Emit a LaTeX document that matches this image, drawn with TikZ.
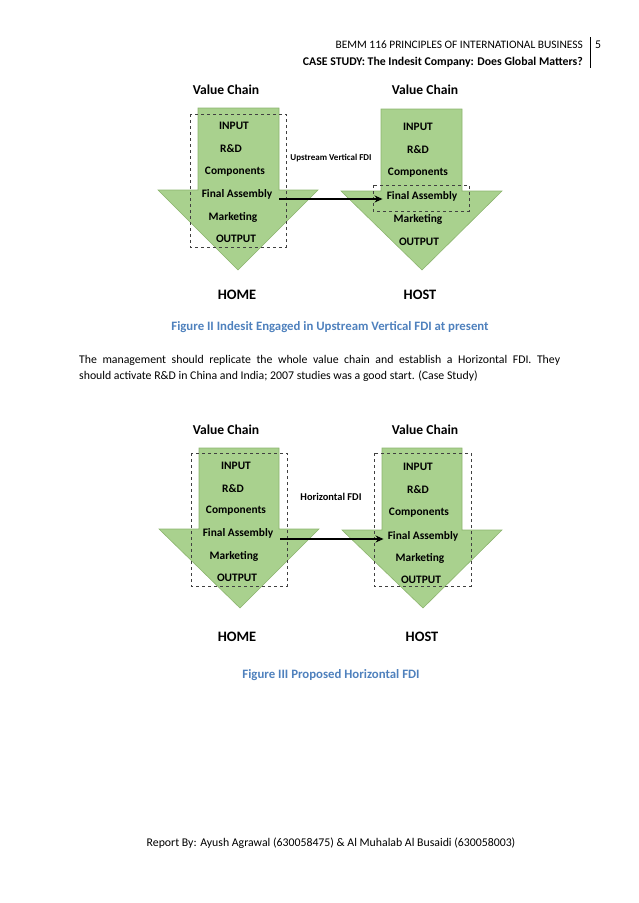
\documentclass[tikz,border=0pt]{standalone}
\usepackage{fontspec}
\setmainfont{Carlito}
\usetikzlibrary{arrows.meta}
\definecolor{chaingreen}{RGB}{169,209,142}
\definecolor{chainedge}{RGB}{140,180,110}
\definecolor{capblue}{RGB}{79,129,189}
\begin{document}
\begin{tikzpicture}[x=1pt,y=-1pt]
\tikzset{chain/.style={fill=chaingreen,draw=chainedge,line width=.6pt},
  scope box/.style={draw=black!75,dashed,line width=.6pt},
  item/.style={font=\bfseries\fontsize{11.4}{13}\selectfont,inner sep=1pt},
  head/.style={font=\bfseries\fontsize{13.6}{15}\selectfont},
  place/.style={font=\bfseries\fontsize{14.4}{16}\selectfont},
  fdi/.style={font=\bfseries\fontsize{9}{10}\selectfont},
  fdiarrow/.style={-{Stealth[length=8pt,width=7pt]},line width=2.2pt},
  body/.style={font=\fontsize{11.8}{16}\selectfont,inner sep=0pt},
  caption/.style={font=\bfseries\fontsize{12.8}{14}\selectfont,text=capblue,inner sep=0pt}}
\useasboundingbox (0,0) rectangle (638,903);

% page header
\draw (583,45) node[body,anchor=east,font=\fontsize{11.4}{16}\selectfont](title1) {BEMM 116 PRINCIPLES OF INTERNATIONAL BUSINESS};
\draw (583,62) node[body,anchor=east,font=\bfseries\fontsize{11.8}{16}\selectfont](title2) {CASE STUDY: The Indesit Company: Does Global Matters?};
\draw (598,45) node[body](pagenum) {5};
\draw[line width=.5pt] (590,37) -- (590,68);

% Figure II
\draw[chain] (198,108) -- (279,108) -- (279,190) -- (318,190) -- (238,270) -- (158,190) -- (198,190) -- cycle;
\draw[chain] (381,109) -- (462,109) -- (462,191) -- (502,191) -- (422,270) -- (341,191) -- (381,191) -- cycle;
\draw[scope box] (190,114) rectangle (286,247);
\draw[scope box] (373,185) rectangle (469,211);

\draw (226,90) node[head](vc1) {Value Chain};
\draw (425,90) node[head](vc2) {Value Chain};
\draw (234,126) node[item](hin1) {INPUT};
\draw (231,149) node[item](hrd1) {R\&D};
\draw (235,172) node[item](hco1) {Components};
\draw (237,194) node[item](hfa1) {Final Assembly};
\draw (233,217) node[item](hma1) {Marketing};
\draw (236,239) node[item](hou1) {OUTPUT};
\draw (418,127) node[item](tin1) {INPUT};
\draw (418,150) node[item](trd1) {R\&D};
\draw (418,173) node[item](tco1) {Components};
\draw (422,196) node[item](tfa1) {Final Assembly};
\draw (418,219) node[item](tma1) {Marketing};
\draw (419,242) node[item](tou1) {OUTPUT};
\draw (237,295) node[place](home1) {HOME};
\draw (420,295) node[place](host1) {HOST};

\draw (331,158) node[fdi](up) {Upstream Vertical FDI};
\draw[fdiarrow] ([xshift=6pt,yshift=-5pt]hfa1.east) -- ([xshift=-3pt,yshift=-3pt]tfa1.west);

\draw (330,327) node[caption](cap2) {Figure II Indesit Engaged in Upstream Vertical FDI at present};

% text between the figures
\draw (79,355) node[body,anchor=north west,text width=481pt,align=justify](para) {The management should replicate the whole value chain and establish a Horizontal FDI. They\linebreak should activate R\&D in China and India; 2007 studies was a good start. (Case Study)};

% Figure III
\draw[chain] (199,448) -- (279,448) -- (279,529) -- (319,529) -- (240,608) -- (159,529) -- (199,529) -- cycle;
\draw[chain] (382,448) -- (462,448) -- (462,530) -- (502,530) -- (423,608) -- (342,530) -- (382,530) -- cycle;
\draw[scope box] (191,453) rectangle (287,586);
\draw[scope box] (374,453) rectangle (471,586);

\draw (226,430) node[head](vc3) {Value Chain};
\draw (425,430) node[head](vc4) {Value Chain};
\draw (236,466) node[item](hin2) {INPUT};
\draw (233,489) node[item](hrd2) {R\&D};
\draw (236,511) node[item](hco2) {Components};
\draw (238,533) node[item](hfa2) {Final Assembly};
\draw (234,556) node[item](hma2) {Marketing};
\draw (237,578) node[item](hou2) {OUTPUT};
\draw (418,467) node[item](tin2) {INPUT};
\draw (418,490) node[item](trd2) {R\&D};
\draw (419,513) node[item](tco2) {Components};
\draw (423,536) node[item](tfa2) {Final Assembly};
\draw (420,558) node[item](tma2) {Marketing};
\draw (421,580) node[item](tou2) {OUTPUT};
\draw (237,637) node[place](home2) {HOME};
\draw (422,637) node[place](host2) {HOST};

\draw (331,497) node[fdi,font=\bfseries\fontsize{10.4}{12}\selectfont](hor) {Horizontal FDI};
\draw[fdiarrow] ([xshift=6pt,yshift=-6pt]hfa2.east) -- ([xshift=-3pt,yshift=-3pt]tfa2.west);

\draw (331,675) node[caption](cap3) {Figure III Proposed Horizontal FDI};

% footer
\draw (331,843) node[body](foot) {Report By: Ayush Agrawal (630058475) \& Al Muhalab Al Busaidi (630058003)};
\end{tikzpicture}
\end{document}
